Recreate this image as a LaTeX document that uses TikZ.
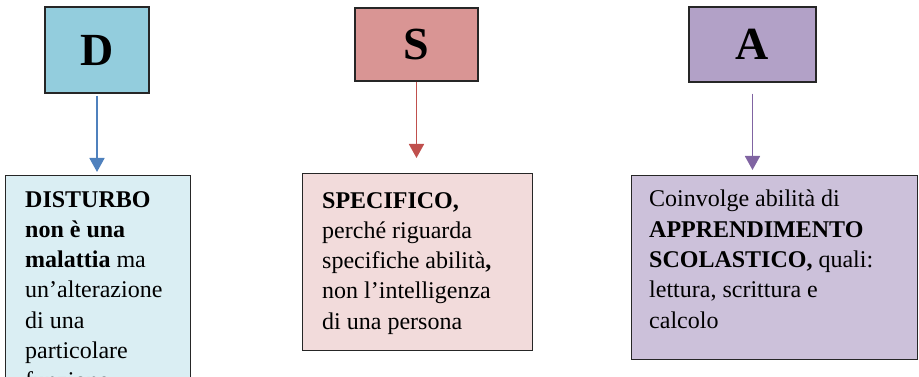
\documentclass[tikz,border=0pt]{standalone}
\usepackage{fontspec}
\setmainfont{Liberation Serif}
\usetikzlibrary{arrows.meta}

\definecolor{dtop}{HTML}{93CDDD}
\definecolor{dbox}{HTML}{DAEEF3}
\definecolor{darr}{HTML}{4F81BD}
\definecolor{stop}{HTML}{D99594}
\definecolor{sbox}{HTML}{F2DBDB}
\definecolor{sarr}{HTML}{C0504D}
\definecolor{atop}{HTML}{B2A1C7}
\definecolor{abox}{HTML}{CCC1DA}
\definecolor{aarr}{HTML}{8064A2}

\begin{document}
\begin{tikzpicture}
  [
    x=1pt, y=-1pt,
    letter/.style =
      {draw=black!85, line width=1.2pt, font=\fontsize{46}{50}\selectfont\bfseries},
    card/.style =
      {draw=black!85, line width=1.2pt, anchor=north west},
    words/.style =
      {anchor=north west, inner sep=0pt, align=left, font=\fontsize{24}{30.3}\selectfont},
    link/.style =
      {line width=1.8pt, -{Triangle[width=15pt,length=14pt]}}
  ]
  \useasboundingbox (0,0) rectangle (919,377);
  \clip (0,0) rectangle (919,377);

  \node [letter, fill=dtop, minimum width=104pt, minimum height=86pt] at ( 97,  50) (d) {D};
  \node [letter, fill=stop, minimum width=123pt, minimum height=73pt] at (416.5,44.5) (s) {S};
  \node [letter, fill=atop, minimum width=127pt, minimum height=75pt] at (752.5,44.5) (a) {A};

  \node [card, fill=dbox, minimum width=185pt, minimum height=240pt] at (  5,175) (dc) {};
  \node [card, fill=sbox, minimum width=230pt, minimum height=177pt] at (302,173) (sc) {};
  \node [card, fill=abox, minimum width=286pt, minimum height=184pt] at (631,175) (ac) {};

  \node [words] at ( 25,191) (dw)
    {\textbf{DISTURBO}\\ \textbf{non è una}\\ \textbf{malattia} ma\\ un’alterazione\\ di una\\ particolare\\ funzione};
  \node [words] at (322,192) (sw)
    {\textbf{SPECIFICO,}\\ perché riguarda\\ specifiche abilità\textbf{,}\\ non l’intelligenza\\ di una persona};
  \node [words] at (649,190) (aw)
    {Coinvolge abilità di\\ \textbf{APPRENDIMENTO}\\ \textbf{SCOLASTICO,} quali:\\ lettura, scrittura e\\ calcolo};

  \draw[link, darr, shorten <=2pt,  shorten >=3pt]  (d.south) -- (d.south |- dc.north);
  \draw[link, sarr, shorten >=15pt]                 (s.south) -- (s.south |- sc.north);
  \draw[link, aarr, shorten <=11pt, shorten >=5pt]  (a.south) -- (a.south |- ac.north);
\end{tikzpicture}
\end{document}
